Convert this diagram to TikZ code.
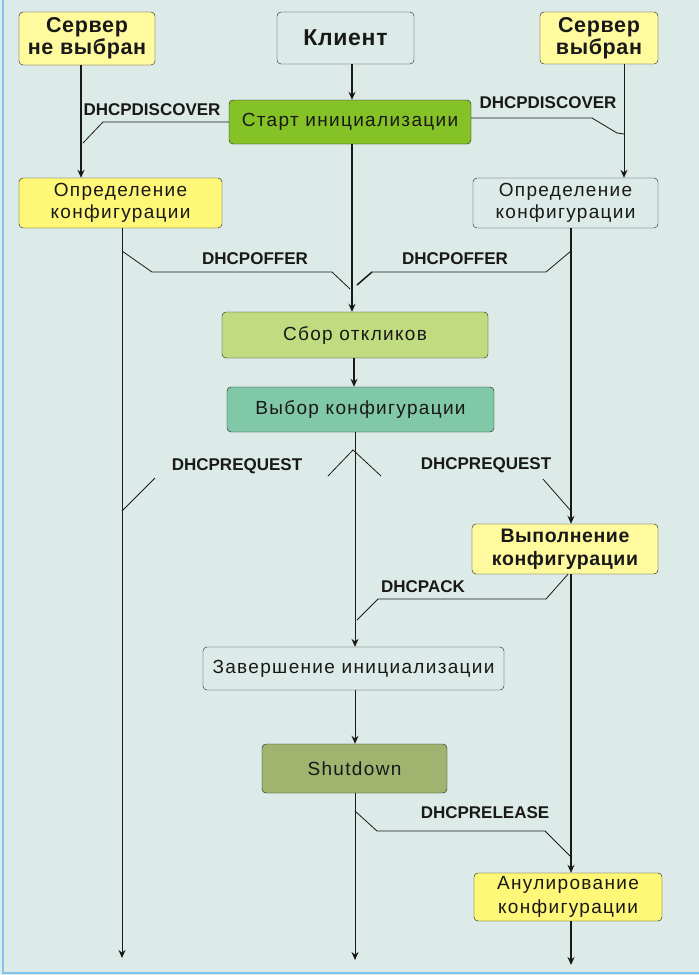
\documentclass[tikz,border=0pt]{standalone}
\usepackage{fontspec}
\setmainfont{Liberation Sans}
\newfontfamily\boxfont[LetterSpace=7]{Liberation Sans}
\newfontfamily\headfont[LetterSpace=3]{Liberation Sans}
\usetikzlibrary{positioning, arrows.meta}

\definecolor{bgcol}{HTML}{DDEBE8}
\definecolor{edgecol}{HTML}{80C4F0}
\definecolor{paleyellow}{HTML}{FFFA9E}
\definecolor{brightyellow}{HTML}{FFF777}
\definecolor{startgreen}{HTML}{85C226}
\definecolor{lightgreen}{HTML}{C1DB80}
\definecolor{tealgreen}{HTML}{80C8A8}
\definecolor{olivegreen}{HTML}{A0B470}

\tikzset{
  box/.style={draw=black!90, rounded corners=4pt, align=center, inner sep=0pt, text=black!90},
  bigbold/.style={font=\headfont\fontsize{21.5}{22}\selectfont\bfseries},
  midbold/.style={font=\headfont\fontsize{19.5}{23}\selectfont\bfseries},
  plain/.style={font=\boxfont\fontsize{19}{22}\selectfont},
  msg/.style={font=\fontsize{17}{17}\selectfont\bfseries, text=black!90, inner sep=0pt},
  flow/.style={line width=2pt, black!90},
  thinflow/.style={line width=1pt, black!90},
  signal/.style={line width=0.8pt, black!90}
}

\begin{document}
\begin{tikzpicture}[x=1pt, y=-1pt, >={Stealth[length=8pt, width=7pt]}]
    \useasboundingbox (0,0) rectangle (699,975);
    \fill[bgcol] (0,0) rectangle (699,975);
    \draw[edgecol, line width=2pt] (2.5,0) -- (2.5,973) -- (699,973);

    % lanes
    \coordinate (lx) at (81,0);
    \coordinate (llx) at (122,0);
    \coordinate (cx) at (352,0);
    \coordinate (ccx) at (355,0);
    \coordinate (rx) at (624,0);
    \coordinate (rrx) at (571,0);

    % boxes
    \node[box, bigbold, fill=paleyellow, minimum width=136pt, minimum height=53pt] (srvno) at (87,38.5) {Сервер\\не выбран};
    \node[box, bigbold, font=\headfont\fontsize{23}{22}\selectfont\bfseries, minimum width=137pt, minimum height=52pt] (client) at (345.5,38) {Клиент};
    \node[box, bigbold, fill=paleyellow, minimum width=118pt, minimum height=52pt] (srvyes) at (599,38) {Сервер\\выбран};
    \node[box, plain, fill=startgreen, minimum width=242pt, minimum height=44pt] (start) at (350,122) {Старт инициализации};
    \node[box, plain, fill=brightyellow, minimum width=203pt, minimum height=50pt] (confno) at (120.5,203) {Определение\\конфигурации};
    \node[box, plain, minimum width=185pt, minimum height=50pt] (confyes) at (565.5,203) {Определение\\конфигурации};
    \node[box, plain, fill=lightgreen, minimum width=266pt, minimum height=46pt] (collect) at (355,335) {Сбор откликов};
    \node[box, plain, fill=tealgreen, minimum width=267pt, minimum height=45pt] (choose) at (360.5,409.5) {Выбор конфигурации};
    \node[box, midbold, fill=paleyellow, minimum width=186pt, minimum height=50pt] (apply) at (565,549) {Выполнение\\конфигурации};
    \node[box, plain, minimum width=301pt, minimum height=43pt] (finish) at (353.5,668.5) {Завершение инициализации};
    \node[box, plain, fill=olivegreen, minimum width=185pt, minimum height=49pt] (shutdown) at (354.5,768.5) {Shutdown};
    \node[box, plain, font=\boxfont\fontsize{19}{24}\selectfont, fill=brightyellow, minimum width=188pt, minimum height=48pt] (cancel) at (568,897) {Анулирование\\конфигурации};

    % lane ends
    \coordinate (lend) at (122,958);
    \coordinate (cend) at (355,960);
    \coordinate (rend) at (571,965);

    % flow arrows
    \draw[->, flow] (srvno.south -| lx) -- (confno.north -| lx);
    \draw[->, thinflow] (confno.south -| llx) -- (lend);
    \draw[->, flow] (client.south -| cx) -- (start.north -| cx);
    \draw[->, flow] (start.south -| cx) -- (collect.north -| cx);
    \draw[->, flow] (collect.south -| 354,0) -- (choose.north -| 354,0);
    \draw[->, thinflow] (choose.south -| ccx) -- (finish.north -| ccx);
    \draw[->, thinflow] (finish.south -| ccx) -- (shutdown.north -| ccx);
    \draw[->, thinflow] (shutdown.south -| ccx) -- (cend);
    \draw[->, thinflow] (srvyes.south -| rx) -- (confyes.north -| rx);
    \draw[->, flow] (confyes.south -| rrx) -- (apply.north -| rrx);
    \draw[->, flow] (apply.south -| rrx) -- (cancel.north -| rrx);
    \draw[->, flow] (cancel.south -| rrx) -- (rend);

    % messages
    \draw[signal] (start.west) -- (103,122) -- (83,143);
    \node[msg] (discl) at (152,110) {DHCPDISCOVER};
    \draw[signal] (start.east |- 0,118) -- (592,118) -- (617,133) -- (624,134);
    \node[msg] (discr) at (548,103) {DHCPDISCOVER};

    \draw[signal] (122,251) -- (152,272) -- (332,272) -- (350,289);
    \node[msg] (offl) at (255,259) {DHCPOFFER};
    \draw[signal] (571,251) -- (546,272) -- (372,272);
    \draw[flow, line width=1.5pt] (372,272) -- (357,285);
    \node[msg] (offr) at (455,259) {DHCPOFFER};

    \draw[signal] (122,511) -- (155,478);
    \draw[signal] (328,476) -- (353,450) -- (381,476);
    \draw[signal] (543,479) -- (571,511);
    \node[msg] (reql) at (237,466) {DHCPREQUEST};
    \node[msg] (reqr) at (486,465) {DHCPREQUEST};

    \draw[signal] (apply.south -| 568,0) -- (546,599) -- (378,599) -- (357,620);
    \node[msg] (ack) at (423,587) {DHCPACK};

    \draw[signal] (355,811) -- (377,831) -- (545,831) -- (570,856);
    \node[msg] (rel) at (485,813) {DHCPRELEASE};
\end{tikzpicture}
\end{document}
